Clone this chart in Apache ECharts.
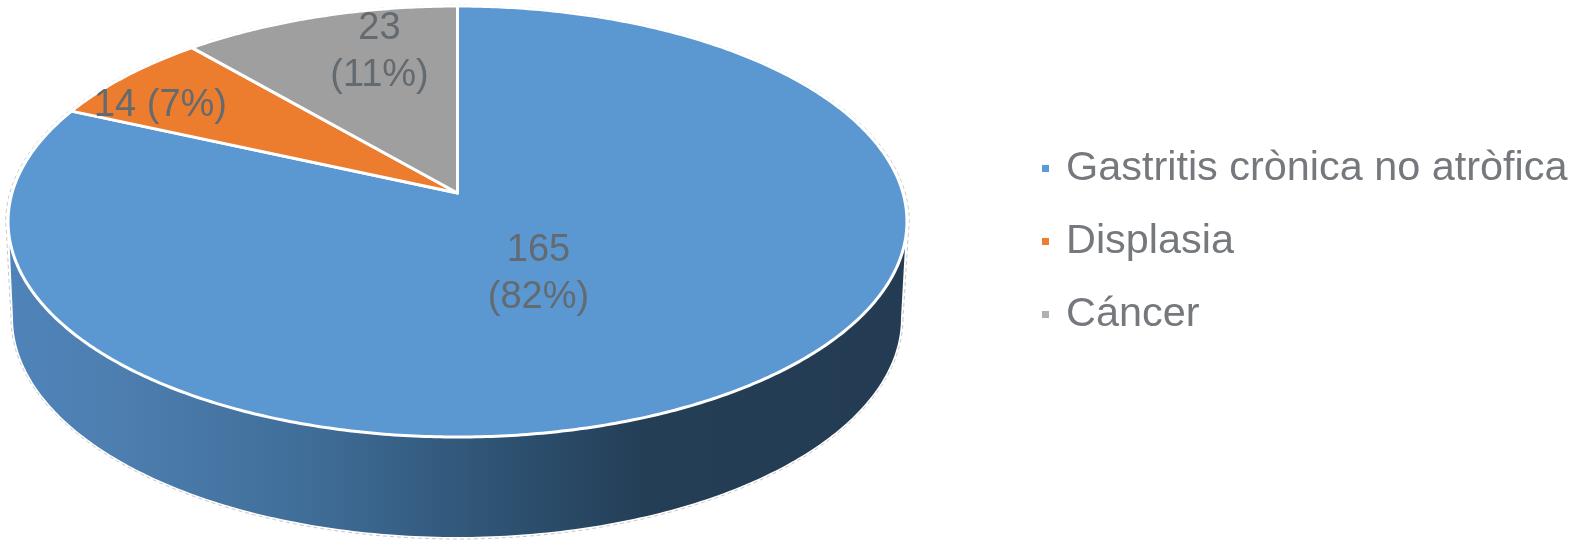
<!DOCTYPE html>
<html>
<head>
<meta charset="utf-8">
<style>html,body{margin:0;padding:0;background:#fff}#c{width:1569px;height:546px}</style>
<script src="https://cdn.jsdelivr.net/npm/echarts@6/dist/echarts.min.js"></script>
</head>
<body>
<div id="c"></div>
<script>
var categories = ['Gastritis crònica no atròfica', 'Displasia', 'Cáncer'];
var sliceValues = [165, 14, 23];
var sliceColors = ['#5b97d1', '#ec7c2e', '#9f9f9f'];
var legendColors = ['#5b9bd5', '#ed7d31', '#b0b0b0'];
// label centre, as an offset from the disc apex (layout only)
var labelOffsets = [[81, 81], [-297, -87], [-78, -141]];
var labelOneLine = [false, true, false];

var FONT = '"Liberation Sans", Helvetica, Arial, sans-serif';
var total = sliceValues.reduce(function (a, b) { return a + b; }, 0);
var APEX_X = 457.5, APEX_Y = 193, PERSP = 0.1323, KX = 445.5, KY = 6 * PERSP - 187;

// Perspective projection of the unit disc: angle clockwise from the top
function project(ang, r) {
  var x = r * Math.sin(ang), y = r * Math.cos(ang), w = 1 + PERSP * y;
  return [APEX_X + KX * x / w, (KY * y + APEX_Y) / w];
}
function arc(a0, a1, r) {
  var pts = [], n = Math.max(2, Math.ceil(Math.abs(a1 - a0) / 0.01));
  for (var i = 0; i <= n; i++) pts.push(project(a0 + (a1 - a0) * i / n, r));
  return pts;
}
// Lower rim of the pie body
var RIM = { cx: 457, cy: 318, rx: 444, ry: 219 };
function rimPoints(grow) {
  var pts = [];
  for (var i = 0; i <= 200; i++) {
    var t = Math.PI * i / 200;
    pts.push([RIM.cx + (RIM.rx + grow) * Math.cos(t), RIM.cy + (RIM.ry + grow) * Math.sin(t)]);
  }
  return pts;
}

function cumulative(idx) {
  var s = 0;
  for (var i = 0; i < idx; i++) s += sliceValues[i];
  return s;
}

function makeSeries(idx) {
  return {
    type: 'custom',
    name: categories[idx],
    coordinateSystem: 'none',
    silent: true,
    animation: false,
    z: 2 + idx,
    itemStyle: { color: legendColors[idx] },
    data: [[sliceValues[idx]]],
    renderItem: function (params, api) {
      var v = api.value(0);
      var a0 = cumulative(idx) / total * 2 * Math.PI;
      var a1 = a0 + v / total * 2 * Math.PI;
      var children = [];
      if (idx === 0) {
        // Thin dashed outline around the whole solid
        var hull = rimPoints(2).concat(arc(-Math.PI * 0.54, Math.PI * 0.54, 1.005));
        children.push({
          type: 'polygon', shape: { points: hull },
          style: { fill: '#fff', stroke: '#b9b9b9', lineWidth: 0.8, lineDash: [4, 3] }
        });
        // Side wall
        var wall = rimPoints(0).concat(arc(-Math.PI * 0.54, Math.PI * 0.54, 0.999));
        children.push({
          type: 'polygon', shape: { points: wall },
          style: {
            fill: new echarts.graphic.LinearGradient(0, 0, 1, 0, [
              { offset: 0, color: '#4f83b9' },
              { offset: 0.11, color: '#4e7fb1' },
              { offset: 0.33, color: '#406e99' },
              { offset: 0.55, color: '#2e5272' },
              { offset: 0.71, color: '#243e56' },
              { offset: 1, color: '#233c53' }
            ])
          }
        });
      }
      var pts = [[APEX_X, APEX_Y]].concat(arc(a0, a1, 1));
      children.push({
        type: 'polygon', shape: { points: pts },
        style: { fill: sliceColors[idx], stroke: '#fff', lineWidth: 3, lineJoin: 'round' }
      });
      var pct = Math.round(v / total * 100);
      var off = labelOffsets[idx];
      children.push({
        type: 'text', z2: 50,
        style: {
          x: APEX_X + off[0], y: APEX_Y + off[1],
          text: v + (labelOneLine[idx] ? ' ' : '\n') + '(' + pct + '%)',
          font: '38px ' + FONT, lineHeight: 47.5,
          fill: '#636a70', align: 'center', verticalAlign: 'middle'
        }
      });
      return { type: 'group', children: children };
    }
  };
}

var chart = echarts.init(document.getElementById('c'), null, { renderer: 'canvas' });
chart.setOption({
  animation: false,
  backgroundColor: '#fff',
  legend: {
    orient: 'vertical',
    left: 1037,
    top: 143,
    icon: 'rect',
    itemWidth: 7,
    itemHeight: 7,
    itemGap: 32,
    selectedMode: false,
    data: categories,
    textStyle: {
      fontFamily: FONT, fontSize: 41.4, color: '#75787c',
      lineHeight: 40, padding: [0, 0, 0, 12]
    }
  },
  series: categories.map(function (_, i) { return makeSeries(i); })
});
</script>
</body>
</html>
